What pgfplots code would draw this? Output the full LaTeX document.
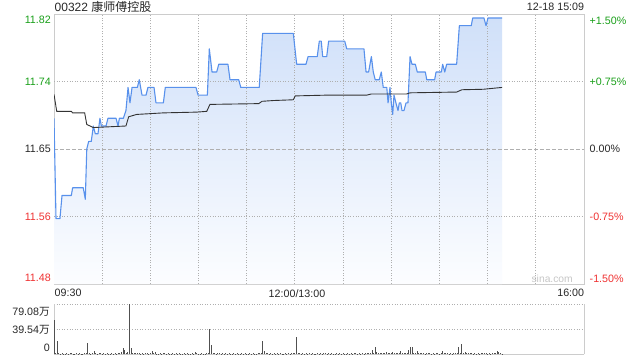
\documentclass[border=0pt]{standalone}
\usepackage{pgfplots}
\pgfplotsset{compat=1.18}
\usepackage{pgfplotstable}
\usepackage{fontspec}
\setmainfont{Liberation Sans}
\newfontfamily\cjk{Noto Sans CJK SC}
\definecolor{upg}{RGB}{26,160,26}
\definecolor{dnr}{RGB}{240,50,50}
\definecolor{lineblue}{RGB}{88,145,236}
\definecolor{fillblue}{RGB}{208,224,249}
\definecolor{fillbot}{RGB}{252,253,255}
\definecolor{gridc}{RGB}{175,175,175}
\definecolor{framec}{RGB}{204,204,204}
\definecolor{txt}{RGB}{40,40,40}
\definecolor{volc}{RGB}{80,80,80}

\pgfplotstableread{
m p
0 11.69
1.25 11.56
3.7 11.56
5 11.59
10.8 11.59
11.6 11.60
18.2 11.60
19.5 11.585
20.4 11.65
21.6 11.66
23.2 11.66
24.5 11.68
25.7 11.67
27.4 11.67
28.6 11.69
29.5 11.68
32.4 11.68
33.6 11.69
38.6 11.69
39.9 11.68
40.7 11.69
43.2 11.69
44.8 11.70
46.1 11.73
47.3 11.71
48.6 11.73
51.9 11.73
53.1 11.74
54.8 11.72
57.3 11.72
58.5 11.73
62.3 11.73
63.5 11.71
68.1 11.71
69.3 11.73
88.4 11.73
89.7 11.72
95.5 11.72
96.7 11.78
98.4 11.75
101.3 11.75
102.6 11.76
108.3 11.76
109.6 11.74
115 11.74
116.3 11.73
127.8 11.73
129.9 11.80
149 11.80
151.1 11.76
156.9 11.76
158.2 11.77
163.9 11.77
165.2 11.79
166.4 11.79
167.3 11.77
169.8 11.77
171 11.79
181 11.79
182.3 11.78
193 11.78
194.3 11.75
195.9 11.75
197.6 11.77
198.8 11.75
200 11.74
202.5 11.74
203.8 11.75
205 11.73
207.2 11.73
208 11.71
209.2 11.73
210 11.71
210.9 11.695
211.7 11.72
212.9 11.71
214.2 11.70
215 11.71
215.9 11.71
216.7 11.70
217.9 11.70
219.2 11.71
220.4 11.71
221.7 11.77
222.9 11.76
225 11.76
226.2 11.75
231.2 11.75
232.1 11.74
237 11.74
237.9 11.75
241.2 11.75
242 11.76
243.3 11.75
244.5 11.76
250.7 11.76
252.4 11.81
259.8 11.81
260.7 11.82
267.7 11.82
269 11.81
270.2 11.82
279 11.82
}\price

\pgfplotstableread{
m p
0 11.721
1.7 11.699
10.8 11.699
11.6 11.697
19.1 11.697
20.4 11.682
24.5 11.678
44.8 11.680
46.5 11.692
51.5 11.695
59.8 11.696
68 11.697
88.9 11.698
95.1 11.699
97.1 11.708
127.5 11.709
129.5 11.712
136.5 11.713
149 11.714
150.2 11.719
169.8 11.720
194.7 11.720
197.6 11.7215
219.6 11.7215
221.7 11.723
250.7 11.724
254 11.727
267.3 11.7276
279 11.730
}\avg

\tikzset{lab/.style={inner sep=0pt, font=\fontsize{10.7}{12}\selectfont},
  dotgrid/.style={gridc, line width=0.9pt, dash pattern=on 1pt off 1.6pt}}

\begin{document}
\begin{tikzpicture}[x=1pt,y=1pt]
\useasboundingbox (0,0) rectangle (640,360);
\fill[white] (0,0) rectangle (640,360);

\begin{axis}[at={(54pt,76pt)}, anchor=south west, scale only axis,
  width=530pt, height=269.7pt,
  xmin=0, xmax=330, ymin=11.47525, ymax=11.82475,
  axis line style={draw=framec}, xtick=\empty, ytick=\empty, clip=true]
\addplot[draw=none, top color=fillblue, bottom color=fillbot] table[x=m,y=p] {\price}
  -- (axis cs:279,11.47525) -- (axis cs:0,11.47525) -- cycle;
\draw[dotgrid] (axis cs:30,11.47525) -- (axis cs:30,11.82475);
\draw[dotgrid] (axis cs:60,11.47525) -- (axis cs:60,11.82475);
\draw[dotgrid] (axis cs:90,11.47525) -- (axis cs:90,11.82475);
\draw[dotgrid] (axis cs:120,11.47525) -- (axis cs:120,11.82475);
\draw[dotgrid] (axis cs:150,11.47525) -- (axis cs:150,11.82475);
\draw[dotgrid] (axis cs:180,11.47525) -- (axis cs:180,11.82475);
\draw[dotgrid] (axis cs:210,11.47525) -- (axis cs:210,11.82475);
\draw[dotgrid] (axis cs:240,11.47525) -- (axis cs:240,11.82475);
\draw[dotgrid] (axis cs:270,11.47525) -- (axis cs:270,11.82475);
\draw[dotgrid] (axis cs:300,11.47525) -- (axis cs:300,11.82475);
\draw[dotgrid] (axis cs:0,11.737375) -- (axis cs:330,11.737375);
\draw[dotgrid] (axis cs:0,11.562625) -- (axis cs:330,11.562625);
\draw[gridc, line width=0.8pt, dash pattern=on 3.5pt off 2.5pt] (axis cs:0,11.65) -- (axis cs:330,11.65);
\addplot[lineblue, line width=1.1pt, line join=round] table[x=m,y=p] {\price};
\addplot[black!80, line width=0.9pt] table[x=m,y=p] {\avg};
\end{axis}

\begin{axis}[at={(54pt,5.7pt)}, anchor=south west, scale only axis,
  width=530pt, height=50pt,
  xmin=0, xmax=330, ymin=0, ymax=79.08,
  axis line style={draw=none}, xtick=\empty, ytick=\empty, clip=false]
\draw[dotgrid] (axis cs:0,79.08) -- (axis cs:330,79.08);
\draw[dotgrid] (axis cs:0,39.54) -- (axis cs:330,39.54);
\draw[framec] (axis cs:0,0) -- (axis cs:0,79.08);
\draw[framec] (axis cs:330,0) -- (axis cs:330,79.08);
\draw[framec] (axis cs:0,0) -- (axis cs:330,0);
\addplot[ycomb, volc, line width=0.9pt] coordinates {
(0,53.9)(1,1.5)(2,21.4)(3,2.2)(4,1.0)(5,1.4)(6,0.8)(7,1.2)(8,1.6)(9,0.9)
(10,1.3)(11,2.0)(12,1.1)(13,0.7)(14,1.4)(15,1.0)(16,1.8)(17,0.9)(18,1.2)(19,2.5)
(20,1.5)(21,18.1)(22,2.3)(23,1.2)(24,1.7)(25,5.3)(26,1.9)(27,1.1)(28,2.4)(29,1.3)
(30,0.9)(31,1.6)(32,1.0)(33,2.1)(34,1.2)(35,0.8)(36,1.5)(37,1.1)(38,1.9)(39,1.0)
(40,1.4)(41,2.2)(42,3.0)(43,10.7)(44,6.4)(45,2.6)(46,3.1)(47,79.08)(48,10.7)(49,2.8)
(50,1.9)(51,1.3)(52,2.4)(53,1.6)(54,1.0)(55,1.8)(56,1.2)(57,2.0)(58,1.5)(59,1.1)
(60,1.7)(61,5.3)(62,1.4)(63,4.0)(64,1.2)(65,0.8)(66,1.5)(67,1.0)(68,1.9)(69,1.3)
(70,0.9)(71,1.4)(72,1.1)(73,0.7)(74,1.6)(75,1.0)(76,1.3)(77,0.8)(78,1.5)(79,1.1)
(80,0.9)(81,1.4)(82,1.0)(83,1.7)(84,1.2)(85,0.8)(86,1.3)(87,1.0)(88,3.2)(89,1.4)
(90,1.1)(91,0.9)(92,1.5)(93,1.2)(94,0.8)(95,1.6)(96,2.0)(97,39.5)(98,14.9)(99,2.2)
(100,1.6)(101,1.1)(102,1.9)(103,1.3)(104,0.9)(105,1.4)(106,1.1)(107,1.7)(108,1.0)(109,1.5)
(110,1.2)(111,0.8)(112,1.4)(113,1.0)(114,1.6)(115,1.2)(116,0.9)(117,1.3)(118,1.0)(119,1.5)
(120,1.1)(121,0.8)(122,1.3)(123,1.0)(124,1.6)(125,1.2)(126,0.9)(127,1.4)(128,1.8)(129,2.4)
(130,21.4)(131,5.3)(132,2.0)(133,1.4)(134,1.1)(135,1.7)(136,1.0)(137,1.3)(138,0.9)(139,1.5)
(140,1.1)(141,1.4)(142,0.8)(143,1.2)(144,1.6)(145,1.0)(146,1.3)(147,0.9)(148,1.5)(149,1.8)
(150,2.5)(151,27.8)(152,2.2)(153,1.5)(154,1.1)(155,1.6)(156,1.0)(157,1.4)(158,0.9)(159,1.3)
(160,1.1)(161,1.5)(162,0.8)(163,1.2)(164,1.7)(165,1.0)(166,1.4)(167,0.9)(168,1.3)(169,1.6)
(170,1.1)(171,1.4)(172,1.0)(173,1.8)(174,1.2)(175,0.9)(176,1.5)(177,1.1)(178,1.3)(179,1.0)
(180,1.6)(181,1.2)(182,0.9)(183,1.4)(184,1.1)(185,1.7)(186,1.0)(187,1.3)(188,1.5)(189,1.1)
(190,1.4)(191,1.0)(192,1.6)(193,1.2)(194,2.0)(195,1.5)(196,2.6)(197,1.8)(198,6.4)(199,2.4)
(200,11.8)(201,4.3)(202,2.0)(203,1.6)(204,2.4)(205,1.9)(206,2.2)(207,3.2)(208,1.8)(209,2.5)
(210,2.0)(211,3.2)(212,1.7)(213,2.3)(214,1.9)(215,2.8)(216,5.3)(217,2.1)(218,2.6)(219,1.8)
(220,2.4)(221,7.5)(222,11.8)(223,11.8)(224,2.6)(225,2.0)(226,5.3)(227,1.9)(228,1.4)(229,2.2)
(230,1.6)(231,1.2)(232,1.9)(233,1.3)(234,1.7)(235,1.0)(236,1.5)(237,1.2)(238,1.8)(239,1.4)
(240,1.1)(241,2.0)(242,5.3)(243,1.6)(244,1.3)(245,1.9)(246,1.1)(247,1.5)(248,1.2)(249,1.7)
(250,1.4)(251,2.3)(252,11.8)(253,2.5)(254,16.0)(255,2.1)(256,3.2)(257,1.7)(258,2.0)(259,1.4)
(260,1.8)(261,1.2)(262,1.6)(263,1.0)(264,1.4)(265,1.1)(266,1.7)(267,1.3)(268,1.9)(269,1.5)
(270,1.2)(271,1.6)(272,1.0)(273,1.4)(274,1.8)(275,2.2)(276,5.3)(277,3.2)(278,1.9)(279,1.2)
};
\end{axis}

% title and time stamp
\node[inner sep=0pt, anchor=west, text=txt, font=\fontsize{12}{14}\selectfont] at (54.5,353.3) {00322 {\cjk 康师傅控股}};
\node[lab, anchor=east, text=txt] at (584.3,352.7) {12-18 15:09};

% left price labels
\node[lab, anchor=east, text=upg] at (51,340) {11.82};
\node[lab, anchor=east, text=upg] at (51,278.2) {11.74};
\node[lab, anchor=east, text=txt] at (51,210.7) {11.65};
\node[lab, anchor=east, text=dnr] at (51,143) {11.56};
\node[lab, anchor=east, text=dnr] at (51,81.7) {11.48};
% right percent labels
\node[lab, anchor=west, text=upg] at (589.5,339) {+1.50\%};
\node[lab, anchor=west, text=upg] at (589.5,278.2) {+0.75\%};
\node[lab, anchor=west, text=txt] at (589.5,210.7) {0.00\%};
\node[lab, anchor=west, text=dnr] at (589.5,143) {-0.75\%};
\node[lab, anchor=west, text=dnr] at (589.5,81) {-1.50\%};
% time labels
\node[lab, anchor=west, text=txt] at (54.5,66.7) {09:30};
\node[lab, anchor=center, text=txt] at (297,66.7) {12:00/13:00};
\node[lab, anchor=east, text=txt] at (584.3,66.7) {16:00};
% watermark
\node[inner sep=0pt, anchor=east, text=black!22, font=\fontsize{10.3}{12}\selectfont] at (573,80.7) {sina.com};
% volume labels
\node[lab, anchor=east, text=txt] at (50,48.3) {79.08{\cjk 万}};
\node[lab, anchor=east, text=txt] at (50,30.3) {39.54{\cjk 万}};
\node[lab, anchor=east, text=txt] at (50,11.7) {0};
\end{tikzpicture}
\end{document}
